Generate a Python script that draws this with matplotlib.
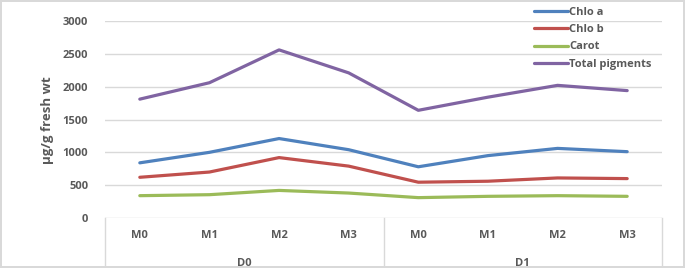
import matplotlib
matplotlib.use("Agg")
import matplotlib.pyplot as plt
import matplotlib.transforms as mtransforms
import numpy as np

months = ["M0", "M1", "M2", "M3", "M0", "M1", "M2", "M3"]
groups = ["D0", "D1"]
chlo_a = [840, 1000, 1210, 1040, 780, 950, 1060, 1010]
chlo_b = [620, 700, 920, 790, 545, 560, 610, 600]
carot = [340, 355, 420, 380, 310, 330, 340, 330]
total = [1810, 2060, 2560, 2210, 1640, 1840, 2020, 1940]
series_names = ["Chlo a", "Chlo b", "Carot", "Total pigments"]
colors = ["#4F81BD", "#C0504D", "#9BBB59", "#8064A2"]

plt.rcParams['font.family'] = ['Open Sans', 'DejaVu Sans']
txt_color = "#595959"
grid_color = "#D9D9D9"

fig = plt.figure(figsize=(6.85, 2.68), dpi=100)
fig.patch.set_edgecolor("#D9D9D9")
fig.patch.set_linewidth(1.5)
ax = fig.add_axes([105/685, 1-218/268, 557/685, 197/268])

x = np.arange(len(months))
for vals, name, c in zip([chlo_a, chlo_b, carot, total], series_names, colors):
    ax.plot(x, vals, color=c, lw=2.3, label=name, solid_joinstyle='round', solid_capstyle='round')

ax.set_xlim(-0.5, len(months) - 0.5)
ax.set_ylim(0, 3000)
ax.set_yticks(np.arange(0, 3001, 500))
ax.yaxis.grid(True, color=grid_color, lw=1)
ax.set_axisbelow(True)
for s in ax.spines.values():
    s.set_visible(False)
ax.tick_params(axis='y', length=0, pad=12, labelsize=8, labelcolor=txt_color)
for t in ax.get_yticklabels():
    t.set_fontweight('bold')
ax.set_xticks([])

trans = mtransforms.blended_transform_factory(ax.transData, ax.transAxes)
# category box
for xv in [-0.5, 3.5, 7.5]:
    ax.plot([xv, xv], [0, -0.26], color=grid_color, lw=1, transform=trans, clip_on=False)
for xi, m in zip(x, months):
    ax.text(xi, -18/197, m, transform=trans, ha='center', va='center',
            fontsize=8, fontweight='bold', color=txt_color)
for gi, g in enumerate(groups):
    ax.text(gi * 4 + 1.5, -45/197, g, transform=trans, ha='center', va='center',
            fontsize=8, fontweight='bold', color=txt_color)

fig.text(47/685, 1-120/268, "µg/g fresh wt", rotation=90, ha='center', va='center',
         fontsize=9.5, fontweight='bold', color=txt_color)

leg = fig.legend(loc='upper left', bbox_to_anchor=(527/685, 1.0), frameon=False,
                 fontsize=8, handlelength=3.0, handletextpad=0.15, labelspacing=0.55,
                 borderpad=0.15)
for t in leg.get_texts():
    t.set_fontweight('bold')
    t.set_color(txt_color)

fig.savefig("out.png", dpi=100, edgecolor=fig.get_edgecolor())
